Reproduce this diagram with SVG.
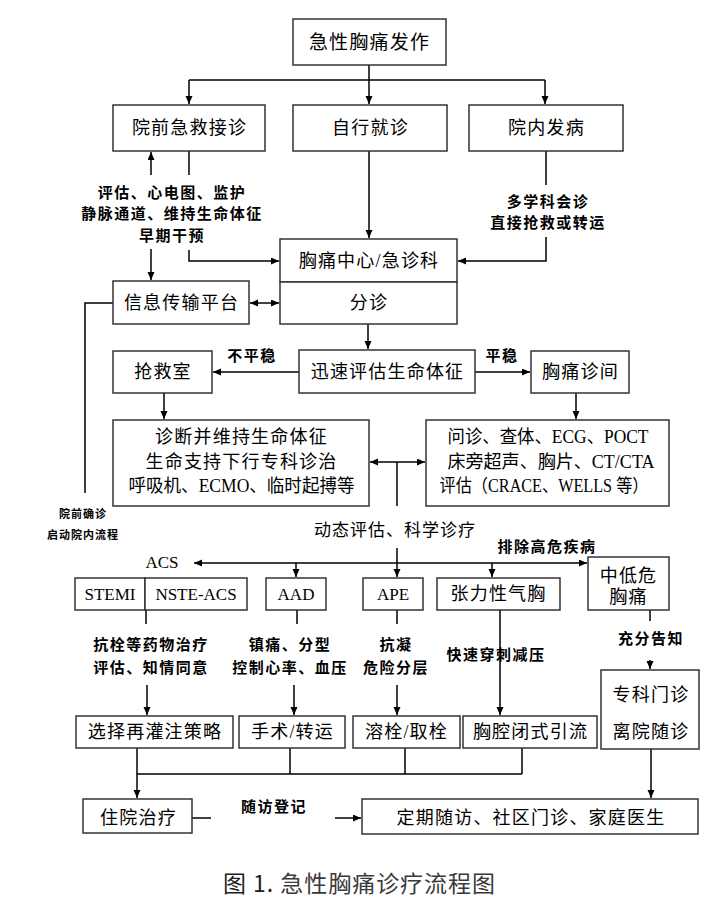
<svg xmlns="http://www.w3.org/2000/svg" width="727" height="900" viewBox="0 0 727 900">
<style>
.bx{fill:#fff;stroke:#333;stroke-width:1.5}
.t{font-family:"Liberation Serif","Noto Sans CJK SC",serif;font-size:18px;letter-spacing:1.2px;fill:#000;text-anchor:middle;dominant-baseline:central}
.f{letter-spacing:0}
.s{font-family:"Liberation Serif","Noto Sans CJK SC",serif;font-size:15px;letter-spacing:1.5px;font-weight:bold;fill:#000;text-anchor:middle;dominant-baseline:central}
.xs{font-family:"Noto Sans CJK SC",sans-serif;font-size:11px;letter-spacing:1px;font-weight:bold;fill:#000;text-anchor:middle;dominant-baseline:central}
.m{font-family:"Noto Sans CJK SC",sans-serif;font-size:17px;letter-spacing:1px;fill:#000;text-anchor:middle;dominant-baseline:central}
.c{fill:none;stroke:#000;stroke-width:1.5}
.a{marker-end:url(#ah)}
.d{marker-end:url(#ah);marker-start:url(#ah)}
</style>
<defs>
<marker id="ah" markerUnits="userSpaceOnUse" markerWidth="9" markerHeight="8" refX="8" refY="3.5" orient="auto-start-reverse">
<path d="M0,0 L8,3.5 L0,7 z" fill="#000"/>
</marker>
</defs>
<rect width="727" height="900" fill="#fff"/>

<g id="connectors">
<path class="c" d="M369,65 V80 M189,80 H545"/>
<path class="c a" d="M189,80 V104"/>
<path class="c a" d="M369,80 V104"/>
<path class="c a" d="M545,80 V104"/>
<path class="c a" d="M151,175 V152"/>
<path class="c" d="M189,151 V175"/>
<path class="c a" d="M151,249 V280"/>
<path class="c a" d="M189,250 V261 H279"/>
<path class="c a" d="M369,151 V238"/>
<path class="c" d="M546,151 V185"/>
<path class="c a" d="M546,237 V261 H458"/>
<path class="c d" d="M250,303 H279"/>
<path class="c" d="M113,303 H85 V493"/>
<path class="c a" d="M368,324 V349"/>
<path class="c a" d="M299,372 H213"/>
<path class="c a" d="M475,372 H530"/>
<path class="c a" d="M164,393 V419"/>
<path class="c a" d="M576,393 V419"/>
<path class="c d" d="M370,462 H425"/>
<path class="c" d="M397,462 V506"/>
<path class="c" d="M397,548 V563"/>
<path class="c a" d="M397,563 V577"/>
<path class="c a" d="M397,563 H194"/>
<path class="c a" d="M397,563 H587"/>
<path class="c a" d="M296,563 V577"/>
<path class="c a" d="M492,563 V577"/>
<path class="c" d="M146,610 V624 M297,610 V624 M397,610 V624 M650,610 V621"/>
<path class="c a" d="M500,610 V715"/>
<path class="c a" d="M147,685 V715"/>
<path class="c a" d="M294,685 V715"/>
<path class="c a" d="M397,685 V715"/>
<path class="c a" d="M650,660 V669"/>
<path class="c a" d="M137,748 V798"/>
<path class="c" d="M137,774 H522 M290,748 V774 M405,748 V774 M522,748 V774"/>
<path class="c a" d="M651,749 V798"/>
<path class="c" d="M192,818 H211"/>
<path class="c a" d="M335,818 H361"/>
</g>

<g id="n-onset"><rect class="bx" x="293" y="19" width="153" height="46"/><text class="t" x="369.5" y="42" style="font-size:19px">急性胸痛发作</text></g>
<g id="n-prehosp"><rect class="bx" x="113" y="105" width="152" height="46"/><text class="t" x="189.5" y="128">院前急救接诊</text></g>
<g id="n-self"><rect class="bx" x="293" y="105" width="154" height="46"/><text class="t" x="370.5" y="128">自行就诊</text></g>
<g id="n-inhosp"><rect class="bx" x="469" y="105" width="154" height="46"/><text class="t" x="546.5" y="128">院内发病</text></g>

<g id="l-prehosp"><text class="s" x="172" y="193">评估、心电图、监护</text><text class="s" x="172" y="214">静脉通道、维持生命体征</text><text class="s" x="172" y="236">早期干预</text></g>
<g id="l-inhosp"><text class="s" x="548" y="202">多学科会诊</text><text class="s" x="548" y="223">直接抢救或转运</text></g>

<g id="n-center"><rect class="bx" x="280" y="239" width="177" height="43"/><text class="t" x="369" y="261">胸痛中心/急诊科</text></g>
<g id="n-triage"><rect class="bx" x="280" y="282" width="177" height="42"/><text class="t" x="369" y="303">分诊</text></g>
<g id="n-info"><rect class="bx" x="113" y="281" width="136" height="43"/><text class="t" x="181.5" y="303">信息传输平台</text></g>

<g id="n-assess"><rect class="bx" x="299" y="350" width="176" height="43"/><text class="t" x="387.5" y="372">迅速评估生命体征</text></g>
<g id="n-resus"><rect class="bx" x="113" y="351" width="99" height="42"/><text class="t" x="163" y="372">抢救室</text></g>
<g id="n-clinic"><rect class="bx" x="531" y="351" width="98" height="42"/><text class="t" x="580.5" y="372">胸痛诊间</text></g>
<text class="s" x="252" y="356">不平稳</text>
<text class="s" x="502" y="356">平稳</text>

<g id="n-diag"><rect class="bx" x="113" y="420" width="256" height="86"/><text class="t" x="241.5" y="437">诊断并维持生命体征</text><text class="t" x="241.5" y="462">生命支持下行专科诊治</text><text class="t f" x="241.5" y="486" textLength="226" lengthAdjust="spacingAndGlyphs">呼吸机、ECMO、临时起搏等</text></g>
<g id="n-exam"><rect class="bx" x="426" y="420" width="243" height="86"/><text class="t f" x="548" y="437" textLength="201" lengthAdjust="spacingAndGlyphs">问诊、查体、ECG、POCT</text><text class="t f" x="551" y="462" textLength="207" lengthAdjust="spacingAndGlyphs">床旁超声、胸片、CT/CTA</text><text class="t f" x="544" y="486" textLength="209" lengthAdjust="spacingAndGlyphs">评估（CRACE、WELLS 等）</text></g>

<g id="l-confirm"><text class="xs" x="83" y="513">院前确诊</text><text class="xs" x="83" y="534">启动院内流程</text></g>
<text class="m" x="395" y="528">动态评估、科学诊疗</text>
<text class="t f" x="162" y="562" style="font-size:17px">ACS</text>
<text class="s" x="547" y="547">排除高危疾病</text>

<g id="n-stemi"><rect class="bx" x="75" y="578" width="70" height="32"/><text class="t f" x="110" y="594" style="font-size:17px">STEMI</text></g>
<g id="n-nste"><rect class="bx" x="145" y="578" width="102" height="32"/><text class="t f" x="196" y="594" style="font-size:17px">NSTE-ACS</text></g>
<g id="n-aad"><rect class="bx" x="266" y="578" width="60" height="32"/><text class="t f" x="296" y="594" style="font-size:17px">AAD</text></g>
<g id="n-ape"><rect class="bx" x="363" y="578" width="60" height="32"/><text class="t f" x="393" y="594" style="font-size:17px">APE</text></g>
<g id="n-ptx"><rect class="bx" x="437" y="578" width="123" height="32"/><text class="t" x="498.5" y="594">张力性气胸</text></g>
<g id="n-low"><rect class="bx" x="588" y="557" width="81" height="53"/><text class="t" x="628.5" y="576">中低危</text><text class="t" x="628.5" y="597">胸痛</text></g>

<g id="l-acs"><text class="s" x="151" y="645">抗栓等药物治疗</text><text class="s" x="151" y="668">评估、知情同意</text></g>
<g id="l-aad"><text class="s" x="290" y="645">镇痛、分型</text><text class="s" x="290" y="668">控制心率、血压</text></g>
<g id="l-ape"><text class="s" x="396" y="645">抗凝</text><text class="s" x="396" y="668">危险分层</text></g>
<g id="l-ptx"><text class="s" x="496" y="655">快速穿刺减压</text></g>
<g id="l-low"><text class="s" x="651" y="639">充分告知</text></g>

<g id="n-reperf"><rect class="bx" x="76" y="716" width="157" height="32"/><text class="t" x="155" y="732">选择再灌注策略</text></g>
<g id="n-surg"><rect class="bx" x="239" y="716" width="106" height="32"/><text class="t" x="292.5" y="732">手术/转运</text></g>
<g id="n-lysis"><rect class="bx" x="353" y="716" width="107" height="32"/><text class="t" x="406.5" y="732">溶栓/取栓</text></g>
<g id="n-drain"><rect class="bx" x="463" y="716" width="134" height="32"/><text class="t" x="530.5" y="732">胸腔闭式引流</text></g>
<g id="n-opd"><rect class="bx" x="601" y="670" width="98" height="79"/><text class="t" x="651" y="695">专科门诊</text><text class="t" x="651" y="732">离院随诊</text></g>

<g id="n-inpt"><rect class="bx" x="83" y="799" width="109" height="34"/><text class="t" x="138.5" y="818">住院治疗</text></g>
<text class="s" x="274" y="807">随访登记</text>
<g id="n-follow"><rect class="bx" x="362" y="799" width="336" height="35"/><text class="t" x="531" y="818">定期随访、社区门诊、家庭医生</text></g>

<text x="359" y="882" textLength="272" style="font-family:'Noto Sans CJK SC','Liberation Sans',sans-serif;font-size:23px;fill:#3a3a3a;text-anchor:middle;dominant-baseline:central"><tspan fill="#222">图 1.</tspan> 急性胸痛诊疗流程图</text>
</svg>
